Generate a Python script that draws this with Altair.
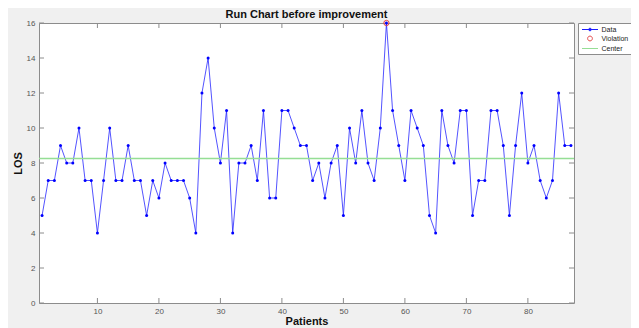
import altair as alt
import pandas as pd

# ---- data ----
patients = list(range(1, 88))
los = [5, 7, 7, 9, 8, 8, 10, 7, 7, 4,
       7, 10, 7, 7, 9, 7, 7, 5, 7, 6,
       8, 7, 7, 7, 6, 4, 12, 14, 10, 8,
       11, 4, 8, 8, 9, 7, 11, 6, 6, 11,
       11, 10, 9, 9, 7, 8, 6, 8, 9, 5,
       10, 8, 11, 8, 7, 10, 16, 11, 9, 7,
       11, 10, 9, 5, 4, 11, 9, 8, 11, 11,
       5, 7, 7, 11, 11, 9, 5, 9, 12, 8,
       9, 7, 6, 7, 12, 9, 9]
violation_patients = [57]
violation_los = [16]
center_value = [8.26]
x_ticks = [10, 20, 30, 40, 50, 60, 70, 80]
y_ticks = [0, 2, 4, 6, 8, 10, 12, 14, 16]
legend_labels = ["Data", "Violation", "Center"]

BLUE = "#1a1aff"
RED = "#e5484a"
GREEN = "#95de95"
FRAME = "#8c8c8c"
FONT = "Liberation Sans"

df = pd.DataFrame({"patient": patients, "los": los})
viol = pd.DataFrame({"patient": violation_patients, "los": violation_los})
cen = pd.DataFrame({"c": center_value})
xt = pd.DataFrame({"t": x_ticks})
yt = pd.DataFrame({"t": y_ticks})
leg = pd.DataFrame({"series": legend_labels, "px": [-20] * 3, "py": [-20] * 3})

xscale = alt.Scale(domain=[0.5, 87.5], nice=False, zero=False)
yscale = alt.Scale(domain=[0, 16], nice=False, zero=False)

x_axis = alt.Axis(values=x_ticks, ticks=False, domain=False, grid=False,
                  labelFont=FONT, labelFontSize=8, labelColor="#555555",
                  labelPadding=4, labelFlush=False,
                  title="Patients", titleFont=FONT, titleFontSize=11,
                  titleFontWeight="bold", titleColor="#111111",
                  titleY=18, titleBaseline="middle")
y_axis = alt.Axis(values=y_ticks, ticks=False, domain=False, grid=False,
                  labelFont=FONT, labelFontSize=8, labelColor="#555555",
                  labelPadding=4, labelFlush=False,
                  title="LOS", titleFont=FONT, titleFontSize=11,
                  titleFontWeight="bold", titleColor="#111111",
                  titleX=-21, titleY=140, titleAngle=270,
                  titleAlign="center", titleBaseline="middle")


def X(field):
    return alt.X(field, scale=xscale, axis=x_axis)


def Y(field):
    return alt.Y(field, scale=yscale, axis=y_axis)


line = alt.Chart(df).mark_line(color=BLUE, strokeWidth=0.75).encode(
    x=X("patient:Q"), y=Y("los:Q"))
dots = alt.Chart(df).mark_circle(color="#0000ff", size=9, opacity=1).encode(
    x=X("patient:Q"), y=Y("los:Q"))
center = alt.Chart(cen).mark_rule(color=GREEN, strokeWidth=1.5).encode(
    y=Y("c:Q"))
violation = alt.Chart(viol).mark_point(shape="circle", filled=False, size=28,
                                       color=RED, strokeWidth=1, opacity=1).encode(
    x=X("patient:Q"), y=Y("los:Q"))

tick_len = 5
xt_bottom = alt.Chart(xt).mark_rule(color=FRAME, strokeWidth=1).encode(
    x=X("t:Q"), y=alt.value(280), y2=alt.value(280 - tick_len))
xt_top = alt.Chart(xt).mark_rule(color=FRAME, strokeWidth=1).encode(
    x=X("t:Q"), y=alt.value(0), y2=alt.value(tick_len))
yt_left = alt.Chart(yt).mark_rule(color=FRAME, strokeWidth=1).encode(
    y=Y("t:Q"), x=alt.value(0), x2=alt.value(tick_len))
yt_right = alt.Chart(yt).mark_rule(color=FRAME, strokeWidth=1).encode(
    y=Y("t:Q"), x=alt.value(535), x2=alt.value(535 - tick_len))

# legend-only layer (its points lie outside the domain and are clipped)
p_data = "M-2,0H2M-0.34,0A0.34,0.34,0,1,1,0.34,0A0.34,0.34,0,1,1,-0.34,0Z"
p_viol = "M-0.6,0A0.6,0.6,0,1,1,0.6,0A0.6,0.6,0,1,1,-0.6,0Z"
p_cent = "M-2,0H2"
leg_props = dict(orient="none", legendX=539, legendY=0, title=None, padding=2,
                 fillColor="white", strokeColor=FRAME, labelFont=FONT,
                 labelFontSize=7, labelColor="#222222", symbolSize=64,
                 symbolStrokeWidth=1, symbolOffset=5.5, labelOffset=7,
                 rowPadding=1, cornerRadius=0)
legend_layer = alt.Chart(leg).mark_point(filled=False, clip=True, opacity=1).encode(
    x=X("px:Q"), y=Y("py:Q"),
    color=alt.Color("series:N",
                    scale=alt.Scale(domain=legend_labels, range=[BLUE, RED, GREEN]),
                    legend=alt.Legend(**leg_props)),
    shape=alt.Shape("series:N",
                    scale=alt.Scale(domain=legend_labels, range=[p_data, p_viol, p_cent]),
                    legend=alt.Legend(**leg_props)),
)

chart = alt.layer(
    line, center, dots, violation, xt_bottom, xt_top, yt_left, yt_right, legend_layer
).properties(
    width=535, height=280,
    padding={"left": 31, "top": 15, "right": 57, "bottom": 25},
    autosize=alt.AutoSizeParams(type="none"),
    background="#f0f0f0",
    title=alt.TitleParams("Run Chart before improvement", font=FONT, fontSize=11,
                          fontWeight="bold", color="#111111", anchor="middle",
                          frame="group", offset=-2),
).configure_view(fill="white", stroke=FRAME, strokeWidth=1)

chart.save("out.html", embed_options={"renderer": "svg", "actions": False})
